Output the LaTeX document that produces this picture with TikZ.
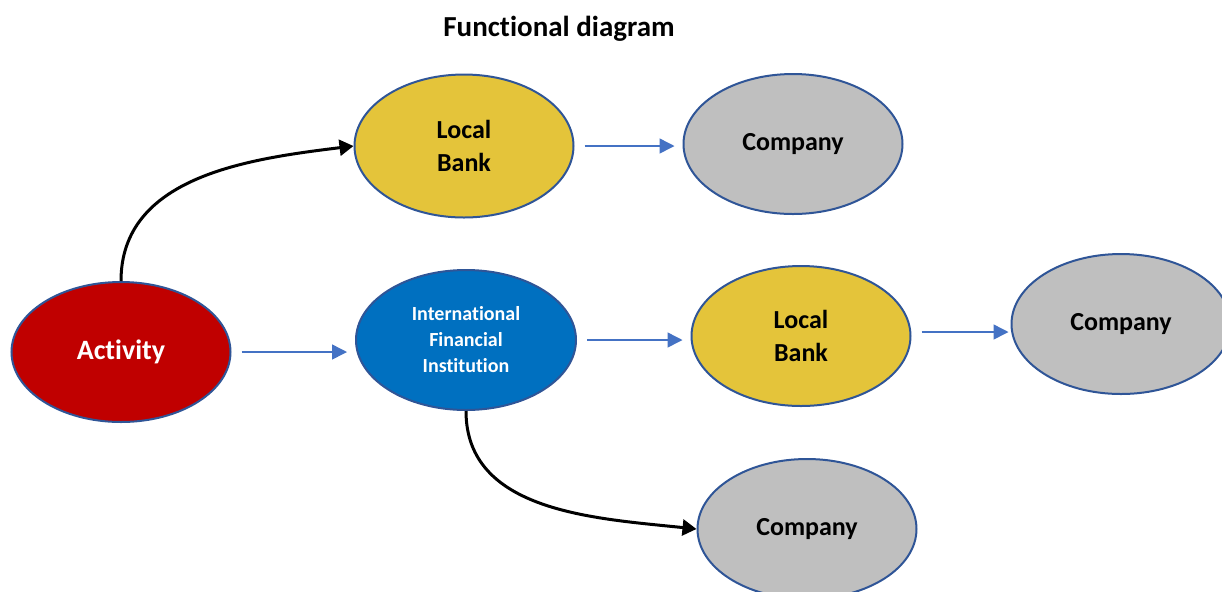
\documentclass[tikz,border=0pt]{standalone}
\usepackage{fontspec}
\setmainfont[RawFeature={-liga;-clig;-dlig;-calt}]{Carlito}
\usetikzlibrary{shapes.geometric,arrows.meta,positioning}

\definecolor{actred}{HTML}{C00000}
\definecolor{bankyellow}{HTML}{E4C43A}
\definecolor{compgray}{HTML}{BFBFBF}
\definecolor{ifiblue}{HTML}{0070C0}
\definecolor{rimblue}{HTML}{2F5597}
\definecolor{flowblue}{HTML}{4472C4}

\tikzset{
	blob/.style={ellipse,draw=rimblue,line width=1pt,inner sep=0pt,
		minimum width=109.5pt,minimum height=70pt,align=center,
		font=\bfseries\fontsize{13}{16.5}\selectfont},
	flow/.style={draw=flowblue,line width=0.75pt,
		-{Triangle[length=7.5pt,width=7.5pt]},shorten <=5pt,shorten >=4pt},
	curvelink/.style={line width=1.5pt,-{Triangle[length=7pt,width=8pt]}}
}

\begin{document}
\begin{tikzpicture}[x=0.5pt,y=-0.5pt]
	\useasboundingbox (0,0) rectangle (1222,591);
	% Title
	\node [font=\bfseries\fontsize{14.5}{17}\selectfont] (title) at (559,29) {Functional diagram};
	% Place nodes
	\node [blob,fill=actred,text=white,font=\bfseries\fontsize{14}{17}\selectfont] (act) at (121,352) {Activity};
	\node [blob,fill=bankyellow,minimum height=71.5pt] (lb1) at (464,146) {Local\\Bank};
	\node [blob,fill=compgray] (c1) at (793,144) {Company};
	\node [blob,fill=ifiblue,text=white,minimum width=110pt,
		font=\bfseries\fontsize{10}{13}\selectfont] (ifi) at (466,340) {International\\Financial\\Institution};
	\node [blob,fill=bankyellow] (lb2) at (801,336) {Local\\Bank};
	\node [blob,fill=compgray] (c2) at (1121,324) {Company};
	\node [blob,fill=compgray] (c3) at (807,529) {Company};
	% Straight flows
	\draw [flow] (act.east) -- (ifi.west |- act.east);
	\draw [flow] (lb1.east) -- (lb1.east -| c1.west);
	\draw [flow] (ifi.east) -- (ifi.east -| lb2.west);
	\draw [flow,shorten >=1pt] ([yshift=2pt]lb2.east) -- ([yshift=2pt]lb2.east -| c2.west);
	% Curved links
	\draw [curvelink] (act.north) to[out=90,in=187] (lb1.west);
	\draw [curvelink] (ifi.south) to[out=-90,in=174] (c3.west);
\end{tikzpicture}
\end{document}
